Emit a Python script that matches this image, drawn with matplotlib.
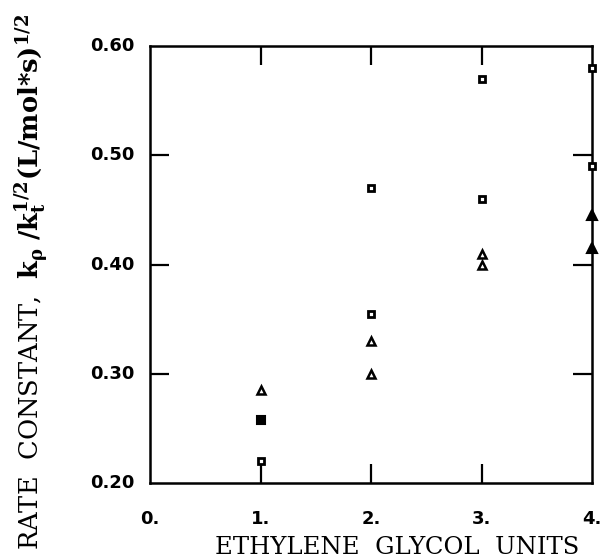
import matplotlib
matplotlib.use("Agg")
import matplotlib.pyplot as plt

# Data
sq_open_x = [1, 2, 2, 3, 3, 4, 4]
sq_open_y = [0.220, 0.470, 0.355, 0.570, 0.460, 0.580, 0.490]
sq_fill_x = [1]
sq_fill_y = [0.258]
tri_open_x = [1, 2, 2, 3, 3]
tri_open_y = [0.285, 0.330, 0.300, 0.410, 0.400]
tri_fill_x = [4, 4]
tri_fill_y = [0.445, 0.415]

xticks = [0, 1, 2, 3, 4]
xticklabels = ["0.", "1.", "2.", "3.", "4."]
yticks = [0.2, 0.3, 0.4, 0.5, 0.6]
yticklabels = ["0.20", "0.30", "0.40", "0.50", "0.60"]

plt.rcParams['mathtext.fontset'] = 'dejavuserif'

fig = plt.figure(figsize=(6.07, 5.59), dpi=100)
ax = fig.add_axes([150/607, 1-483/559, 442/607, 437/559])
ax.set_xlim(0, 4)
ax.set_ylim(0.2, 0.6)

ax.plot(sq_open_x, sq_open_y, ls='none', marker='s', ms=5, mfc='white', mec='black', mew=2.0, clip_on=False, zorder=5)
ax.plot(sq_fill_x, sq_fill_y, ls='none', marker='s', ms=5.5, mfc='black', mec='black', mew=1.5, clip_on=False, zorder=5)
ax.plot(tri_open_x, tri_open_y, ls='none', marker='^', ms=6, mfc='white', mec='black', mew=1.8, clip_on=False, zorder=5)
ax.plot(tri_fill_x, tri_fill_y, ls='none', marker='^', ms=7, mfc='black', mec='black', mew=1.5, clip_on=False, zorder=5)

for s in ax.spines.values():
    s.set_linewidth(1.8)

ax.set_xticks([1, 2, 3])
ax.set_yticks([0.3, 0.4, 0.5])
ax.tick_params(direction='in', length=14, width=1.6, top=True, right=True,
               labelbottom=False, labelleft=False)

for x, lab in zip(xticks, xticklabels):
    ax.text(x, -0.082, lab, transform=ax.get_xaxis_transform(), ha='center', va='center',
            fontsize=13, fontweight='bold', family='DejaVu Sans')
for y, lab in zip(yticks, yticklabels):
    ax.text(-0.035, y, lab, transform=ax.get_yaxis_transform(), ha='right', va='center',
            fontsize=13, fontweight='bold', family='DejaVu Sans')

fig.text(397/607, 1-548/559, "ETHYLENE  GLYCOL  UNITS", ha='center', va='center',
         fontsize=17.5, family='DejaVu Serif')
fig.text(32/607, 1-282/559,
         r"RATE  CONSTANT,  $\mathbf{k_\rho\ /k_t^{1/2}(L/mol{*}s)^{1/2}}$",
         rotation=90, ha='center', va='center', fontsize=18.5, family='DejaVu Serif')

fig.savefig("out.png", dpi=100)
